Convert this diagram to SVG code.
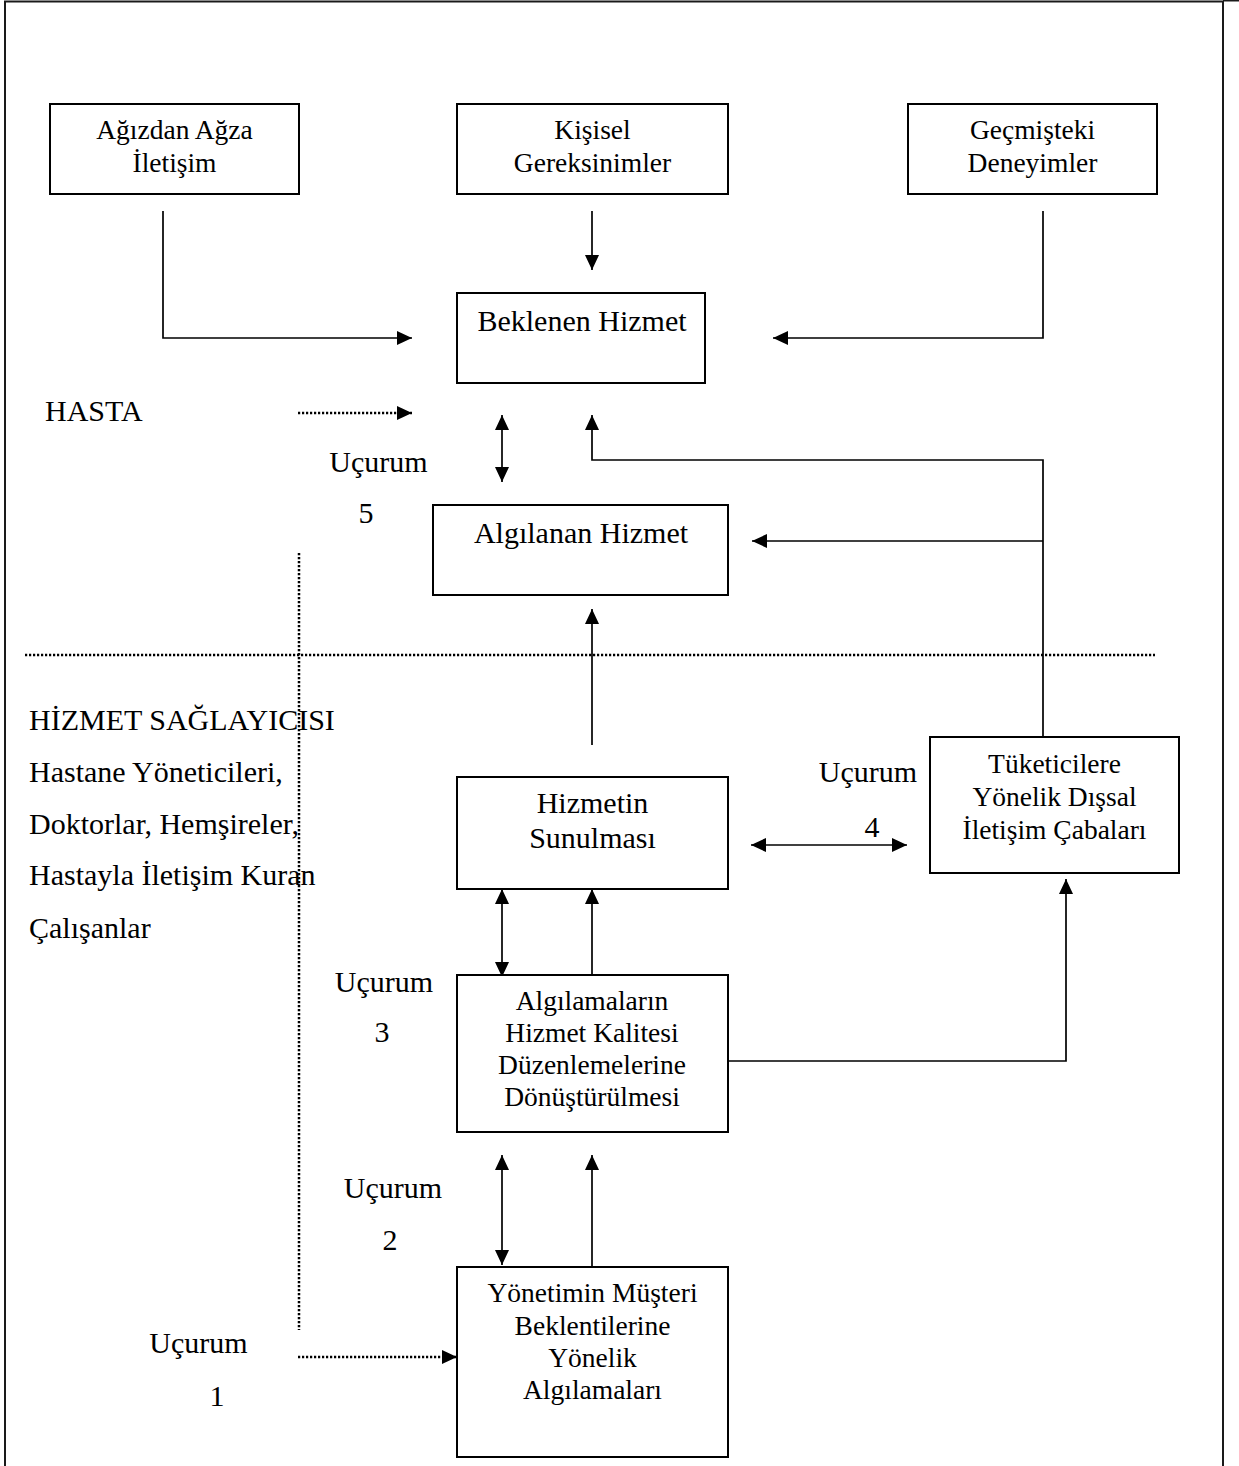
<svg xmlns="http://www.w3.org/2000/svg" width="1239" height="1466" viewBox="0 0 1239 1466">
  <style>
    text { font-family: "Liberation Serif", "Times New Roman", serif; fill: #000; }
    .lg { font-size: 30px; }
    .sm { font-size: 27.5px; }
    .mid { text-anchor: middle; }
    .box { fill: #fff; stroke: #000; stroke-width: 2; }
    .ln { fill: none; stroke: #000; stroke-width: 1.7; }
    .dot { fill: none; stroke: #000; stroke-width: 2.5; stroke-dasharray: 2.2 1.8; }
    .frame { fill: none; stroke: #1a1a1a; stroke-width: 2; }
  </style>
  <defs>
    <marker id="arrow" viewBox="0 0 15 14" refX="15" refY="7" markerWidth="15" markerHeight="14" markerUnits="userSpaceOnUse" orient="auto-start-reverse">
      <path d="M0,0 L15,7 L0,14 z" fill="#000"/>
    </marker>
  </defs>

  <rect width="1239" height="1466" fill="#fff"/>

  <!-- page frame -->
  <g id="frame">
    <path class="frame" d="M5,1466 V1.5 H1223 V1466"/>
    <path class="frame" d="M1223,0.5 H1239" stroke-width="1"/>
  </g>

  <!-- section separators -->
  <g id="separators">
    <line class="dot" x1="25" y1="655" x2="1155" y2="655"/>
    <line class="dot" x1="299" y1="553" x2="299" y2="1330" stroke-width="2.2"/>
  </g>

  <!-- connectors -->
  <g id="connectors">
    <path class="ln" d="M163,211 V338 H412" marker-end="url(#arrow)"/>
    <path class="ln" d="M592,211 V270" marker-end="url(#arrow)"/>
    <path class="ln" d="M1043,211 V338 H773" marker-end="url(#arrow)"/>
    <path class="dot" d="M298,413 H412" marker-end="url(#arrow)"/>
    <path class="ln" d="M502,415 V482" marker-start="url(#arrow)" marker-end="url(#arrow)"/>
    <path class="ln" d="M1043,737 V460 H592 V415" marker-end="url(#arrow)"/>
    <path class="ln" d="M1043,541 H752" marker-end="url(#arrow)"/>
    <path class="ln" d="M592,745 V609" marker-end="url(#arrow)"/>
    <path class="ln" d="M751,845 H907" marker-start="url(#arrow)" marker-end="url(#arrow)"/>
    <path class="ln" d="M502,889 V977" marker-start="url(#arrow)" marker-end="url(#arrow)"/>
    <path class="ln" d="M592,977 V889" marker-end="url(#arrow)"/>
    <path class="ln" d="M502,1155 V1265" marker-start="url(#arrow)" marker-end="url(#arrow)"/>
    <path class="ln" d="M592,1267 V1155" marker-end="url(#arrow)"/>
    <path class="ln" d="M728,1061 H1066 V879" marker-end="url(#arrow)"/>
    <path class="dot" d="M298,1357 H457" marker-end="url(#arrow)"/>
  </g>

  <!-- nodes -->
  <g id="agizdan-agza">
    <rect class="box" x="50" y="104" width="249" height="90"/>
    <text class="sm mid" x="174.5" y="139">Ağızdan Ağza</text>
    <text class="sm mid" x="174.5" y="172">İletişim</text>
  </g>
  <g id="kisisel-gereksinimler">
    <rect class="box" x="457" y="104" width="271" height="90"/>
    <text class="sm mid" x="592.5" y="139">Kişisel</text>
    <text class="sm mid" x="592.5" y="172">Gereksinimler</text>
  </g>
  <g id="gecmisteki-deneyimler">
    <rect class="box" x="908" y="104" width="249" height="90"/>
    <text class="sm mid" x="1032.5" y="139">Geçmişteki</text>
    <text class="sm mid" x="1032.5" y="172">Deneyimler</text>
  </g>
  <g id="beklenen-hizmet">
    <rect class="box" x="457" y="293" width="248" height="90"/>
    <text class="lg mid" x="582" y="331">Beklenen Hizmet</text>
  </g>
  <g id="algilanan-hizmet">
    <rect class="box" x="433" y="505" width="295" height="90"/>
    <text class="lg mid" x="581" y="543">Algılanan Hizmet</text>
  </g>
  <g id="hizmetin-sunulmasi">
    <rect class="box" x="457" y="777" width="271" height="112"/>
    <text class="lg mid" x="592.5" y="813">Hizmetin</text>
    <text class="lg mid" x="592.5" y="848">Sunulması</text>
  </g>
  <g id="dissal-iletisim">
    <rect class="box" x="930" y="737" width="249" height="136"/>
    <text class="sm mid" x="1054.5" y="773">Tüketicilere</text>
    <text class="sm mid" x="1054.5" y="806">Yönelik Dışsal</text>
    <text class="sm mid" x="1054.5" y="839">İletişim Çabaları</text>
  </g>
  <g id="algilamalarin-donusturulmesi">
    <rect class="box" x="457" y="975" width="271" height="157"/>
    <text class="sm mid" x="592" y="1010">Algılamaların</text>
    <text class="sm mid" x="592" y="1042">Hizmet Kalitesi</text>
    <text class="sm mid" x="592" y="1074">Düzenlemelerine</text>
    <text class="sm mid" x="592" y="1106">Dönüştürülmesi</text>
  </g>
  <g id="yonetim-algilamalari">
    <rect class="box" x="457" y="1267" width="271" height="190"/>
    <text class="sm mid" x="592.5" y="1302">Yönetimin Müşteri</text>
    <text class="sm mid" x="592.5" y="1335">Beklentilerine</text>
    <text class="sm mid" x="592.5" y="1367">Yönelik</text>
    <text class="sm mid" x="592.5" y="1399">Algılamaları</text>
  </g>

  <!-- side labels -->
  <g id="hasta-label">
    <text class="lg" x="45" y="421">HASTA</text>
  </g>
  <g id="hizmet-saglayicisi-label">
    <text class="lg" x="29" y="730">HİZMET SAĞLAYICISI</text>
    <text class="lg" x="29" y="782">Hastane Yöneticileri,</text>
    <text class="lg" x="29" y="834">Doktorlar, Hemşireler,</text>
    <text class="lg" x="29" y="885">Hastayla İletişim Kuran</text>
    <text class="lg" x="29" y="938">Çalışanlar</text>
  </g>

  <!-- gap labels -->
  <g id="gap-labels">
    <text class="lg mid" x="378.5" y="472">Uçurum</text>
    <text class="lg mid" x="366" y="523">5</text>
    <text class="lg mid" x="868" y="782">Uçurum</text>
    <text class="lg mid" x="872" y="837">4</text>
    <text class="lg mid" x="384" y="992">Uçurum</text>
    <text class="lg mid" x="382" y="1042">3</text>
    <text class="lg mid" x="393" y="1198">Uçurum</text>
    <text class="lg mid" x="390" y="1250">2</text>
    <text class="lg mid" x="198.5" y="1353">Uçurum</text>
    <text class="lg mid" x="217" y="1406">1</text>
  </g>
</svg>
